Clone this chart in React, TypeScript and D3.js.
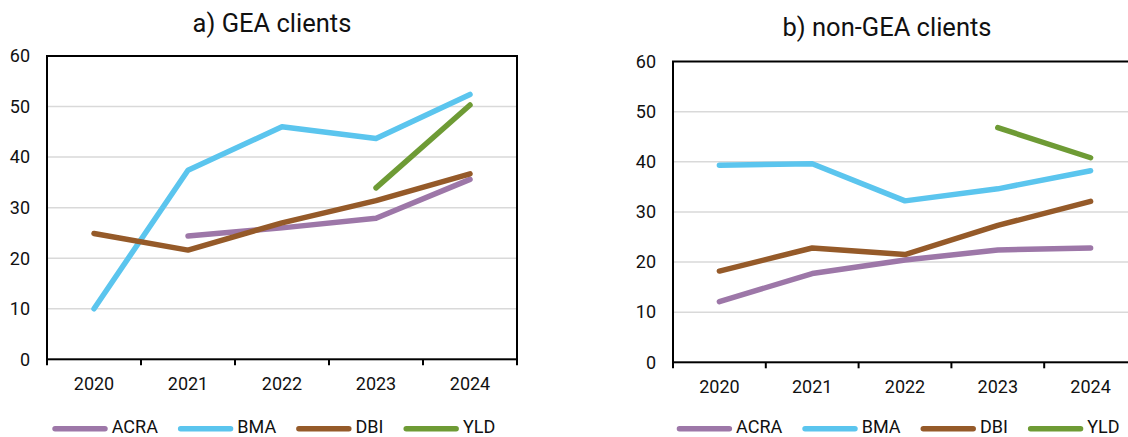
import React, { useEffect, useRef } from "react";
import * as d3 from "d3";

// Survey shares by year for each institution, two client groups
const years = ["2020", "2021", "2022", "2023", "2024"];
const seriesNames = ["ACRA", "BMA", "DBI", "YLD"];
const seriesColors = ["#9D77A8", "#5BC5EE", "#955A29", "#6E9B35"];

const gea_ACRA: (number | null)[] = [null, 24.4, 26.0, 27.9, 35.6];
const gea_BMA: (number | null)[] = [10.0, 37.4, 46.0, 43.7, 52.4];
const gea_DBI: (number | null)[] = [24.9, 21.6, 27.0, 31.4, 36.7];
const gea_YLD: (number | null)[] = [null, null, null, 33.9, 50.3];

const non_ACRA: (number | null)[] = [12.1, 17.7, 20.4, 22.4, 22.8];
const non_BMA: (number | null)[] = [39.3, 39.6, 32.2, 34.6, 38.2];
const non_DBI: (number | null)[] = [18.2, 22.8, 21.5, 27.3, 32.1];
const non_YLD: (number | null)[] = [null, null, null, 46.8, 40.8];

const yTicks = [0, 10, 20, 30, 40, 50, 60];

const panels = [
  {
    title: "a) GEA clients",
    series: [gea_ACRA, gea_BMA, gea_DBI, gea_YLD],
    x0: 47, x1: 517, yTop: 56, yBottom: 359.3,
    titleX: 272, titleY: 32, legendX: 52.3,
  },
  {
    title: "b) non-GEA clients",
    series: [non_ACRA, non_BMA, non_DBI, non_YLD],
    x0: 673, x1: 1137, yTop: 61.5, yBottom: 362.3,
    titleX: 887, titleY: 36, legendX: 676.7,
  },
];

const FONT = "Roboto, 'Noto Sans', sans-serif";
const LW = 5.5;

export default function App() {
  const ref = useRef<SVGSVGElement | null>(null);

  useEffect(() => {
    const svg = d3.select(ref.current);
    svg.selectAll("*").remove();

    panels.forEach((p) => {
      const g = svg.append("g");
      const x = d3.scaleBand<string>().domain(years).range([p.x0, p.x1]);
      const y = d3.scaleLinear().domain([0, 60]).range([p.yBottom, p.yTop]);

      // title
      g.append("text")
        .attr("x", p.titleX)
        .attr("y", p.titleY)
        .attr("text-anchor", "middle")
        .attr("font-family", FONT)
        .attr("font-size", 25.5)
        .attr("fill", "#111")
        .text(p.title);

      // horizontal gridlines
      g.selectAll("line.grid")
        .data(yTicks.filter((t) => t > 0 && t < 60))
        .join("line")
        .attr("x1", p.x0)
        .attr("x2", p.x1)
        .attr("y1", (d) => y(d))
        .attr("y2", (d) => y(d))
        .attr("stroke", "#d9d9d9")
        .attr("stroke-width", 1.5);

      // plot frame
      g.append("rect")
        .attr("x", p.x0)
        .attr("y", p.yTop)
        .attr("width", p.x1 - p.x0)
        .attr("height", p.yBottom - p.yTop)
        .attr("fill", "none")
        .attr("stroke", "#000")
        .attr("stroke-width", 2);

      // y tick labels
      g.selectAll("text.ytick")
        .data(yTicks)
        .join("text")
        .attr("x", p.x0 - 17)
        .attr("y", (d) => y(d))
        .attr("dy", "0.35em")
        .attr("text-anchor", "end")
        .attr("font-family", FONT)
        .attr("font-size", 18)
        .attr("fill", "#111")
        .text((d) => String(d));

      // x ticks at category boundaries
      const bounds = years.map((yr) => x(yr) as number).concat([p.x1]);
      g.selectAll("line.xtick")
        .data(bounds)
        .join("line")
        .attr("x1", (d) => d)
        .attr("x2", (d) => d)
        .attr("y1", p.yBottom)
        .attr("y2", p.yBottom + 6)
        .attr("stroke", "#000")
        .attr("stroke-width", 2);

      // x tick labels
      g.selectAll("text.xlabel")
        .data(years)
        .join("text")
        .attr("x", (d) => (x(d) as number) + x.bandwidth() / 2)
        .attr("y", p.yBottom + 30.7)
        .attr("text-anchor", "middle")
        .attr("font-family", FONT)
        .attr("font-size", 18)
        .attr("fill", "#111")
        .text((d) => d);

      // series lines
      const line = d3
        .line<number | null>()
        .defined((d) => d !== null)
        .x((_, i) => (x(years[i]) as number) + x.bandwidth() / 2)
        .y((d) => y(d as number));

      p.series.forEach((vals, si) => {
        g.append("path")
          .attr("d", line(vals) as string)
          .attr("fill", "none")
          .attr("stroke", seriesColors[si])
          .attr("stroke-width", LW)
          .attr("stroke-linecap", "round")
          .attr("stroke-linejoin", "round");
      });

      // legend
      let lx = p.legendX;
      const ly = 428.7;
      seriesNames.forEach((name, si) => {
        g.append("line")
          .attr("x1", lx + LW / 2)
          .attr("x2", lx + 55.4 - LW / 2)
          .attr("y1", ly)
          .attr("y2", ly)
          .attr("stroke", seriesColors[si])
          .attr("stroke-width", LW)
          .attr("stroke-linecap", "round");
        const t = g
          .append("text")
          .attr("x", lx + 59.4)
          .attr("y", 433.3)
          .attr("font-family", FONT)
          .attr("font-size", 18)
          .attr("fill", "#111")
          .text(name);
        const w = (t.node() as SVGTextElement).getComputedTextLength();
        lx = lx + 59.4 + w + 20;
      });
    });
  }, []);

  return (
    <svg
      ref={ref}
      width={1128}
      height={437}
      style={{ position: "absolute", left: 0, top: 0, background: "#fff" }}
    />
  );
}
